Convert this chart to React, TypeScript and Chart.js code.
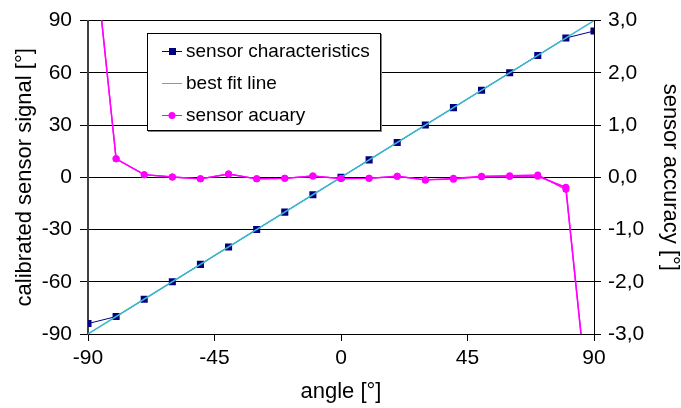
import React, { useEffect, useRef } from "react";
import { Chart, registerables } from "chart.js";

Chart.register(...registerables);

const angles = [-90, -80, -70, -60, -50, -40, -30, -20, -10, 0, 10, 20, 30, 40, 50, 60, 70, 80, 90];
const sensorSignal = [-84, -80, -70, -60, -50, -40, -30, -20, -10, 0, 10, 20, 30, 40, 50, 60, 70, 80, 84];
const fitX = [-90, 90];
const fitY = [-90, 90];
const accuracy = [5.5, 0.355, 0.05, 0.006, -0.03, 0.063, -0.03, -0.02, 0.025, -0.025, -0.02, 0.02, -0.05, -0.02, 0.02, 0.03, 0.045, -0.23, -5.4];
const accuracy2 = [5.5, 0.355, 0.05, 0.006, -0.03, 0.063, -0.03, -0.02, 0.025, -0.025, -0.02, 0.02, -0.05, -0.035, 0.01, 0.015, 0.02, -0.19, -5.4];
const xTicks = [-90, -45, 0, 45, 90];
const leftTicks = [-90, -60, -30, 0, 30, 60, 90];
const rightTicks = [-3, -2, -1, 0, 1, 2, 3];

const seriesNames = ["sensor characteristics", "best fit line", "sensor acuary"];

const NAVY = "#000080";
const CYAN = "#3bb8cc";
const MAGENTA = "#ff00ff";
const FONT = "'Liberation Sans', Arial, sans-serif";
const TICK_SIZE = 21;
const TITLE_SIZE = 22;

const legendPlugin = {
  id: "boxLegend",
  afterDraw(chart: any) {
    const ctx = chart.ctx;
    const x0 = 147, y0 = 33, w = 233, h = 97;
    ctx.save();
    ctx.fillStyle = "#ffffff";
    ctx.fillRect(x0, y0, w, h);
    ctx.strokeStyle = "#808080";
    ctx.lineWidth = 2;
    ctx.beginPath();
    ctx.moveTo(x0 + 1, y0 + h + 1);
    ctx.lineTo(x0 + w + 1, y0 + h + 1);
    ctx.lineTo(x0 + w + 1, y0 + 1);
    ctx.stroke();
    ctx.strokeStyle = "#000000";
    ctx.lineWidth = 1;
    ctx.strokeRect(x0 + 0.5, y0 + 0.5, w, h);
    const rows = [51, 83, 115];
    const colors = [NAVY, CYAN, MAGENTA];
    rows.forEach((ry, i) => {
      ctx.strokeStyle = colors[i];
      ctx.lineWidth = 1;
      ctx.beginPath();
      ctx.moveTo(162, ry + 0.5);
      ctx.lineTo(182, ry + 0.5);
      ctx.stroke();
      ctx.fillStyle = colors[i];
      if (i === 0) {
        ctx.fillRect(169, ry - 3, 7, 7);
      } else if (i === 2) {
        ctx.beginPath();
        ctx.arc(172, ry + 0.5, 3.5, 0, Math.PI * 2);
        ctx.fill();
      }
      ctx.fillStyle = "#000000";
      ctx.font = `19px ${FONT}`;
      ctx.textBaseline = "middle";
      ctx.textAlign = "left";
      ctx.fillText(seriesNames[i], 186, ry + 1);
    });
    ctx.restore();
  },
};

export default function App() {
  const ref = useRef<HTMLCanvasElement>(null);
  useEffect(() => {
    document.body.style.margin = "0";
    const canvas = ref.current!;
    const chart = new Chart(canvas, {
      type: "line",
      data: {
        datasets: [
          {
            label: seriesNames[2] + " 2",
            data: angles.map((a, i) => ({ x: a, y: accuracy2[i] })),
            yAxisID: "y1",
            borderColor: MAGENTA,
            backgroundColor: MAGENTA,
            borderWidth: 1.4,
            pointRadius: 3.5,
            pointStyle: "circle",
            pointBorderWidth: 0,
          },
          {
            label: seriesNames[2],
            data: angles.map((a, i) => ({ x: a, y: accuracy[i] })),
            yAxisID: "y1",
            borderColor: MAGENTA,
            backgroundColor: MAGENTA,
            borderWidth: 1.4,
            pointRadius: 3.5,
            pointStyle: "circle",
            pointBorderWidth: 0,
          },
          {
            label: seriesNames[1],
            data: fitX.map((a, i) => ({ x: a, y: fitY[i] })),
            yAxisID: "y",
            borderColor: CYAN,
            borderWidth: 1.5,
            pointRadius: 0,
          },
          {
            label: seriesNames[0],
            data: angles.map((a, i) => ({ x: a, y: sensorSignal[i] })),
            yAxisID: "y",
            borderColor: NAVY,
            backgroundColor: NAVY,
            borderWidth: 1,
            pointRadius: 5,
            pointStyle: "rect",
            pointBorderWidth: 0,
          },
        ],
      },
      options: {
        animation: false,
        responsive: true,
        maintainAspectRatio: false,
        layout: { padding: { top: 18, left: 0, right: 0, bottom: 0 } },
        plugins: {
          legend: { display: false },
          tooltip: { enabled: false },
        },
        scales: {
          x: {
            type: "linear",
            min: -90,
            max: 90,
            afterFit: (s: any) => { s.height = 74; },
            afterBuildTicks: (s: any) => { s.ticks = xTicks.map((v) => ({ value: v })); },
            ticks: {
              color: "#000",
              font: { family: FONT, size: TICK_SIZE },
              padding: 5,
              maxRotation: 0,
              autoSkip: false,
            },
            grid: {
              drawOnChartArea: false,
              drawTicks: true,
              tickLength: 7,
              color: "#000",
            },
            border: { color: "#000", width: 1 },
            title: {
              display: true,
              text: "angle [°]",
              color: "#000",
              font: { family: FONT, size: TITLE_SIZE },
              padding: { top: 0, bottom: 3 },
            },
          },
          y: {
            type: "linear",
            position: "left",
            min: -90,
            max: 90,
            afterFit: (s: any) => { s.width = 88; },
            afterBuildTicks: (s: any) => { s.ticks = leftTicks.map((v) => ({ value: v })); },
            ticks: {
              color: "#000",
              font: { family: FONT, size: TICK_SIZE },
              padding: 8,
            },
            grid: {
              color: "#000",
              lineWidth: 1,
              drawTicks: true,
              tickLength: 8,
            },
            border: { color: "#404040", width: 2 },
            title: {
              display: true,
              text: "calibrated sensor signal [°]",
              color: "#000",
              font: { family: FONT, size: TITLE_SIZE },
              padding: { top: 12, bottom: 0 },
            },
          },
          y1: {
            type: "linear",
            position: "right",
            min: -3,
            max: 3,
            afterFit: (s: any) => { s.width = 87; },
            afterBuildTicks: (s: any) => { s.ticks = rightTicks.map((v) => ({ value: v })); },
            ticks: {
              color: "#000",
              font: { family: FONT, size: TICK_SIZE },
              padding: 7,
              callback: (v: any) => Number(v).toFixed(1).replace(".", ","),
            },
            grid: {
              drawOnChartArea: false,
              drawTicks: true,
              tickLength: 7,
              color: "#000",
            },
            border: { color: "#000", width: 1 },
            title: {
              display: true,
              text: "sensor accuracy [°]",
              color: "#000",
              font: { family: FONT, size: TITLE_SIZE },
              padding: { top: -2, bottom: 0 },
            },
          },
        },
      },
      plugins: [legendPlugin],
    });
    return () => chart.destroy();
  }, []);

  return (
    <div style={{ position: "absolute", left: 0, top: 0, width: 681, height: 408, background: "#fff" }}>
      <canvas ref={ref} width={681} height={408} />
    </div>
  );
}
